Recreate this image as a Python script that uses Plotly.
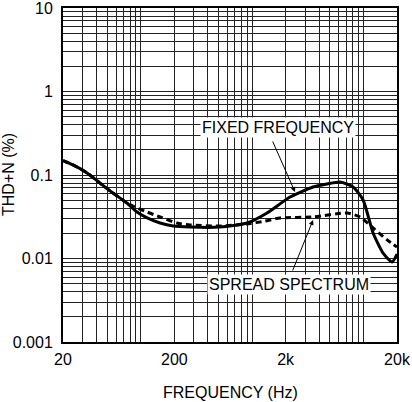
import plotly.graph_objects as go
import numpy as np

# Data
fixed_freq_hz = [20, 24.6, 32.9, 43, 56.2, 75, 92.4, 114, 149, 195, 277, 515, 900, 1361, 2190, 3524, 4710, 6166, 8070, 9920, 12200, 15000, 18080, 20000]
fixed_thdn = [0.149, 0.132, 0.106, 0.080, 0.0608, 0.0462, 0.036, 0.0306, 0.0266, 0.0245, 0.0238, 0.0238, 0.0266, 0.0351, 0.0545, 0.0718, 0.078, 0.0824, 0.0718, 0.0502, 0.0202, 0.0116, 0.0091, 0.0113]

spread_freq_hz = [20, 24.6, 32.9, 43, 56.2, 75, 92.4, 114, 149, 211, 277, 515, 900, 1306, 1782, 3524, 7130, 9320, 12200, 16300, 20000]
spread_thdn = [0.149, 0.132, 0.106, 0.080, 0.0608, 0.0462, 0.0403, 0.036, 0.0314, 0.0266, 0.0252, 0.0245, 0.0259, 0.0281, 0.0306, 0.0314, 0.0351, 0.0314, 0.0232, 0.0167, 0.0137]

x_tick_vals = [20, 200, 2000, 20000]
x_tick_text = ["20", "200", "2k", "20k"]
y_tick_vals = [0.001, 0.01, 0.1, 1, 10]
y_tick_text = ["0.001", "0.01", "0.1", "1", "10"]

x_minor = [m * 10 ** k for k in range(1, 5) for m in range(1, 10) if 20 <= m * 10 ** k <= 20000]
y_minor = [m * 10 ** k for k in range(-3, 1) for m in range(1, 10)]

FONT = "Arial, Liberation Sans, sans-serif"

fig = go.Figure()
fig.add_trace(go.Scatter(x=spread_freq_hz, y=spread_thdn, mode="lines",
                         line=dict(color="black", width=3, dash="6px,4px", shape="spline", smoothing=0.6),
                         showlegend=False, hoverinfo="skip"))
fig.add_trace(go.Scatter(x=fixed_freq_hz, y=fixed_thdn, mode="lines",
                         line=dict(color="black", width=3, shape="spline", smoothing=0.6),
                         showlegend=False, hoverinfo="skip"))

axis_common = dict(showline=True, linecolor="black", linewidth=2, mirror=True,
                   showgrid=True, gridcolor="#222222", gridwidth=1, zeroline=False,
                   ticks="", automargin=False, ticklabeloverflow="allow",
                   tickfont=dict(family=FONT, size=16, color="black"))

fig.update_xaxes(type="log", range=[np.log10(20), np.log10(20000)],
                 tickmode="array", tickvals=x_tick_vals, ticktext=x_tick_text,
                 minor=dict(tickmode="array", tickvals=x_minor, showgrid=True, gridcolor="#222222", gridwidth=1, ticks=""),
                 ticklabelstandoff=2,
                 **axis_common)
fig.update_yaxes(type="log", range=[-3, 1],
                 tickmode="array", tickvals=y_tick_vals, ticktext=y_tick_text,
                 minor=dict(tickmode="array", tickvals=y_minor, showgrid=True, gridcolor="#222222", gridwidth=1, ticks=""),
                 ticklabelstandoff=5,
                 **axis_common)

# Axis titles
fig.add_annotation(x=0.5, y=0, xref="paper", yref="paper", text="FREQUENCY (Hz)", showarrow=False,
                   xanchor="center", yanchor="middle", yshift=-50,
                   font=dict(family=FONT, size=16, color="black"))
fig.add_annotation(x=0, y=0.5, xref="paper", yref="paper", text="THD+N (%)", showarrow=False,
                   xanchor="center", yanchor="middle", xshift=-55, textangle=-90,
                   font=dict(family=FONT, size=16, color="black"))

# Arrows (no text)
fig.add_annotation(x=np.log10(2428), y=-1.204, xref="x", yref="y", text="", showarrow=True,
                   ax=-23, ay=-52, arrowhead=2, arrowsize=1, arrowwidth=1, arrowcolor="black")
fig.add_annotation(x=np.log10(3524), y=-1.539, xref="x", yref="y", text="", showarrow=True,
                   ax=-21, ay=52, arrowhead=2, arrowsize=1, arrowwidth=1, arrowcolor="black")
# Labels
fig.add_annotation(x=3.233, y=-0.437, xref="x", yref="y", text="FIXED FREQUENCY", showarrow=False,
                   font=dict(family=FONT, size=16, color="black"), bgcolor="white", borderpad=1)
fig.add_annotation(x=3.327, y=-2.317, xref="x", yref="y", text="SPREAD SPECTRUM", showarrow=False,
                   font=dict(family=FONT, size=16, color="black"), bgcolor="white", borderpad=1)

fig.update_layout(width=412, height=402, margin=dict(l=63, r=15, t=8, b=60),
                  paper_bgcolor="white", plot_bgcolor="white", showlegend=False)

fig.write_html("out.html", config={"displayModeBar": False, "staticPlot": True},
               post_script="document.body.style.margin='0';document.body.style.overflow='hidden';")
